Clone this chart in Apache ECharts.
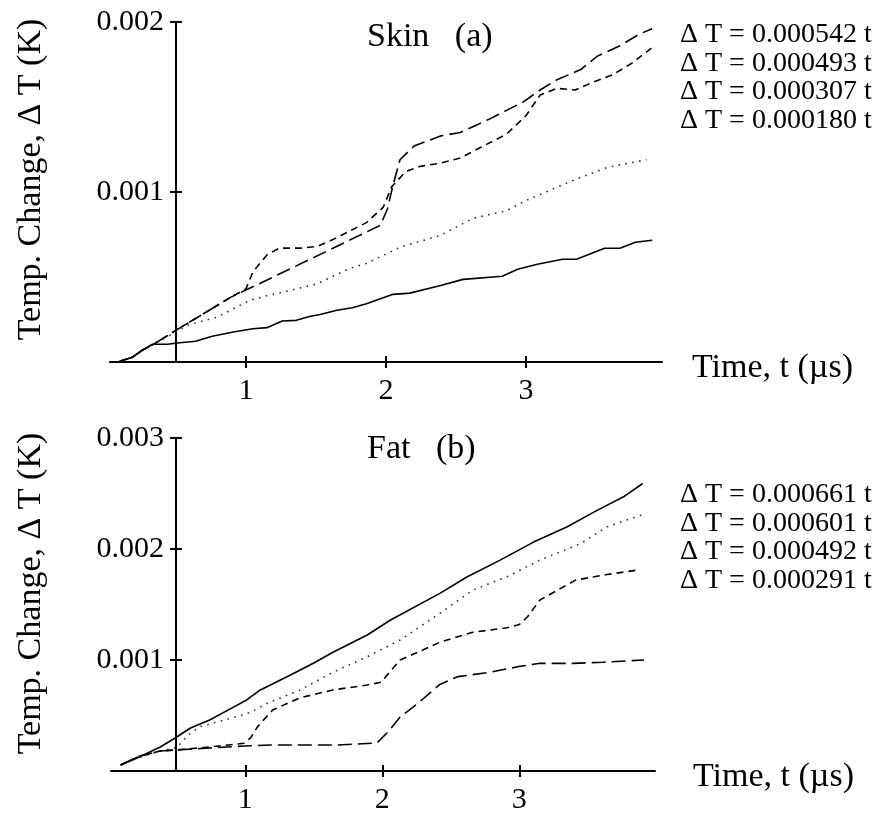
<!DOCTYPE html>
<html>
<head>
<meta charset="utf-8">
<script src="https://cdn.jsdelivr.net/npm/echarts@6/dist/echarts.min.js"></script>
<style>
  html, body { margin: 0; padding: 0; background: #ffffff; }
  #chart { width: 880px; height: 817px; }
</style>
</head>
<body>
<div id="chart"></div>
<script>
// Tick positions
const timeTicks = [1, 2, 3];
const skinTempTicks = [0.001, 0.002];
const fatTempTicks = [0.001, 0.002, 0.003];

// Linear-fit slopes shown beside each panel (K per µs)
const skinFits = ['0.000542', '0.000493', '0.000307', '0.000180'];
const fatFits = ['0.000661', '0.000601', '0.000492', '0.000291'];

// Skin (a): [time µs, ΔT K]
const skinLongDash = [[0.1,0.000004],[0.19,0.000028],[0.26,0.000069],[0.34,0.000104],[0.5,0.000186],[0.89,0.00038],[1.19,0.000498],[1.96,0.000804],[2.01,0.0009],[2.05,0.00104],[2.1,0.00119],[2.2,0.00127],[2.39,0.00133],[2.53,0.00135],[2.74,0.00143],[2.98,0.00153],[3.1,0.0016],[3.22,0.00166],[3.39,0.00172],[3.51,0.0018],[3.67,0.00186],[3.81,0.00193],[3.9,0.00196]];
const skinShortDash = [[0.1,0.000004],[0.19,0.000028],[0.26,0.000069],[0.34,0.000104],[0.5,0.000186],[0.89,0.00038],[1.0,0.00043],[1.05,0.00053],[1.15,0.00063],[1.24,0.00067],[1.39,0.00067],[1.51,0.00068],[1.62,0.00072],[1.86,0.00082],[1.98,0.00091],[2.04,0.00103],[2.14,0.00112],[2.24,0.00115],[2.39,0.00117],[2.53,0.0012],[2.67,0.00126],[2.86,0.00134],[3.0,0.00145],[3.1,0.00157],[3.22,0.00161],[3.35,0.0016],[3.46,0.00164],[3.62,0.00169],[3.76,0.00176],[3.9,0.00185]];
const skinDotted = [[0.1,0.000004],[0.19,0.000028],[0.26,0.000069],[0.34,0.000104],[0.5,0.000175],[0.58,0.000216],[0.79,0.000263],[1.03,0.000363],[1.15,0.00039],[1.26,0.00041],[1.51,0.00046],[1.74,0.00055],[1.86,0.00058],[2.1,0.000675],[2.39,0.000745],[2.62,0.000845],[2.86,0.00089],[3.0,0.00095],[3.34,0.00107],[3.58,0.001145],[3.86,0.00119]];
const skinSolid = [[0.1,0.000004],[0.19,0.000028],[0.26,0.000069],[0.33,0.000104],[0.44,0.000104],[0.51,0.000112],[0.64,0.000122],[0.76,0.000151],[0.91,0.000176],[1.05,0.000196],[1.15,0.000202],[1.26,0.000241],[1.36,0.000245],[1.46,0.000269],[1.53,0.000279],[1.65,0.000304],[1.76,0.000319],[1.86,0.000343],[2.05,0.000398],[2.17,0.000405],[2.39,0.00045],[2.55,0.000486],[2.83,0.000504],[2.94,0.000545],[3.08,0.000575],[3.26,0.000604],[3.36,0.000604],[3.56,0.000669],[3.67,0.000669],[3.78,0.000704],[3.9,0.000716]];

// Fat (b): [time µs, ΔT K]
const fatSolid = [[0.09,0.000054],[0.21,0.000117],[0.38,0.000216],[0.5,0.000306],[0.6,0.000387],[0.74,0.00046],[0.89,0.00056],[1.01,0.00064],[1.11,0.00073],[1.33,0.000865],[1.5,0.000973],[1.64,0.00107],[1.89,0.001225],[2.06,0.00136],[2.42,0.0016],[2.62,0.00175],[2.86,0.0019],[3.1,0.00206],[3.35,0.0022],[3.54,0.00233],[3.76,0.00247],[3.9,0.00259]];
const fatDotted = [[0.09,0.000054],[0.21,0.000117],[0.38,0.00018],[0.5,0.00021],[0.58,0.00032],[0.67,0.0004],[0.91,0.00048],[1.04,0.00053],[1.16,0.00061],[1.4,0.00073],[1.64,0.00089],[1.89,0.00103],[2.13,0.00118],[2.42,0.00142],[2.66,0.00163],[2.91,0.00175],[3.15,0.0019],[3.45,0.00205],[3.64,0.0022],[3.9,0.00231]];
const fatShortDash = [[0.09,0.000054],[0.23,0.000135],[0.38,0.00018],[0.5,0.00019],[0.74,0.000216],[0.99,0.00025],[1.04,0.0003],[1.09,0.0004],[1.2,0.00055],[1.4,0.00066],[1.64,0.00073],[1.89,0.000775],[1.99,0.0008],[2.13,0.001],[2.26,0.00107],[2.42,0.00116],[2.66,0.00125],[2.91,0.00129],[3.0,0.00132],[3.06,0.00139],[3.15,0.00154],[3.28,0.00163],[3.41,0.00172],[3.64,0.00177],[3.86,0.00181]];
const fatLongDash = [[0.09,0.000054],[0.23,0.000135],[0.38,0.00018],[0.5,0.00019],[0.74,0.000207],[0.99,0.000225],[1.18,0.000234],[1.66,0.000234],[1.96,0.000252],[2.04,0.00035],[2.13,0.000486],[2.26,0.00061],[2.42,0.00078],[2.55,0.00085],[2.79,0.00089],[2.99,0.00094],[3.15,0.00097],[3.39,0.00097],[3.61,0.00098],[3.91,0.001]];

const FONT = '"Liberation Serif", "Times New Roman", Times, serif';
const INK = '#000000';

const dashStyles = {
  solid: 'solid',
  longDash: [14, 6],
  shortDash: [7, 5],
  dotted: [1.6, 5.4]
};

function timeAxis(gridIndex, min, max, nameGap, withTicksInside) {
  if (withTicksInside) {
    // companion axis: only the inward half of each tick
    return {
      type: 'value', gridIndex, min, max, position: 'bottom',
      axisLine: { show: false },
      axisTick: { show: true, inside: true, length: 6, customValues: timeTicks, lineStyle: { color: INK, width: 2 } },
      axisLabel: { show: false },
      splitLine: { show: false }
    };
  }
  return {
    type: 'value', gridIndex, min, max, position: 'bottom',
    axisLine: { show: true, onZero: false, lineStyle: { color: INK, width: 2 } },
    axisTick: { show: true, inside: false, length: 6, customValues: timeTicks, lineStyle: { color: INK, width: 2 } },
    axisLabel: { show: true, customValues: timeTicks, margin: 14, fontSize: 30, fontFamily: FONT, color: INK },
    splitLine: { show: false },
    name: 'Time, t (µs)', nameLocation: 'end', nameGap: nameGap,
    nameTextStyle: { fontSize: 34, fontFamily: FONT, color: INK, verticalAlign: 'top', lineHeight: 12 }
  };
}

function tempAxis(gridIndex, max, ticks, offset, shift, withTicksInside) {
  if (withTicksInside) {
    // companion axis: only the inward half of each tick
    return {
      type: 'value', gridIndex, min: 0, max, position: 'left', offset,
      axisLine: { show: false },
      axisTick: { show: true, inside: true, length: 6, customValues: ticks, lineStyle: { color: INK, width: 2 } },
      axisLabel: { show: false },
      splitLine: { show: false }
    };
  }
  return {
    type: 'value', gridIndex, min: 0, max, position: 'left', offset,
    axisLine: { show: true, onZero: false, lineStyle: { color: INK, width: 2 } },
    axisTick: { show: true, inside: false, length: 6, customValues: ticks, lineStyle: { color: INK, width: 2 } },
    axisLabel: { show: true, customValues: ticks, margin: 12, fontSize: 30, fontFamily: FONT, color: INK,
      formatter: v => v.toFixed(3) },
    splitLine: { show: false },
    name: 'Temp. Change, Δ T (K)', nameLocation: 'middle', nameRotate: 90, nameGap: 128,
    nameTextStyle: { fontSize: 34, fontFamily: FONT, color: INK, padding: [0, 0, 0, shift] }
  };
}

function curve(data, axisIndex, dash, color) {
  return {
    type: 'line', data, xAxisIndex: axisIndex, yAxisIndex: axisIndex,
    showSymbol: false, symbol: 'none', smooth: false, silent: true,
    lineStyle: { color: color || INK, width: 1.6, type: dash, cap: 'butt' },
    animation: false
  };
}

function fitLines(fits, x, y0, step) {
  return fits.map((v, i) => ({
    type: 'text', x: x, y: y0 + i * step,
    style: { text: 'Δ T = ' + v + ' t', fontSize: 28, fontFamily: FONT, fill: INK, verticalAlign: 'middle', align: 'left' }
  }));
}

const chart = echarts.init(document.getElementById('chart'), null, { renderer: 'canvas' });

chart.setOption({
  backgroundColor: '#ffffff',
  animation: false,
  grid: [
    { left: 110, top: 22, width: 552, height: 340 },
    { left: 111, top: 438, width: 544, height: 333 }
  ],
  xAxis: [
    timeAxis(0, 0.03, 3.97, 30, false),
    timeAxis(0, 0.03, 3.97, 30, true),
    timeAxis(1, 0.02, 3.99, 38, false),
    timeAxis(1, 0.02, 3.99, 38, true)
  ],
  yAxis: [
    tempAxis(0, 0.002, skinTempTicks, -66, 25, false),
    tempAxis(0, 0.002, skinTempTicks, -66, 25, true),
    tempAxis(1, 0.003, fatTempTicks, -65, 22, false),
    tempAxis(1, 0.003, fatTempTicks, -65, 22, true)
  ],
  series: [
    curve(skinLongDash, 0, dashStyles.longDash),
    curve(skinShortDash, 0, dashStyles.shortDash),
    curve(skinDotted, 0, dashStyles.dotted, '#333333'),
    curve(skinSolid, 0, dashStyles.solid),
    curve(fatSolid, 2, dashStyles.solid),
    curve(fatDotted, 2, dashStyles.dotted, '#333333'),
    curve(fatShortDash, 2, dashStyles.shortDash),
    curve(fatLongDash, 2, dashStyles.longDash)
  ],
  graphic: [
    { type: 'text', x: 367, y: 37, style: { text: 'Skin   (a)', fontSize: 34, fontFamily: FONT, fill: INK, verticalAlign: 'middle' } },
    { type: 'text', x: 367, y: 449, style: { text: 'Fat   (b)', fontSize: 34, fontFamily: FONT, fill: INK, verticalAlign: 'middle' } },
    ...fitLines(skinFits, 680, 35, 28.5),
    ...fitLines(fatFits, 680, 495, 28.5)
  ]
});
</script>
</body>
</html>
